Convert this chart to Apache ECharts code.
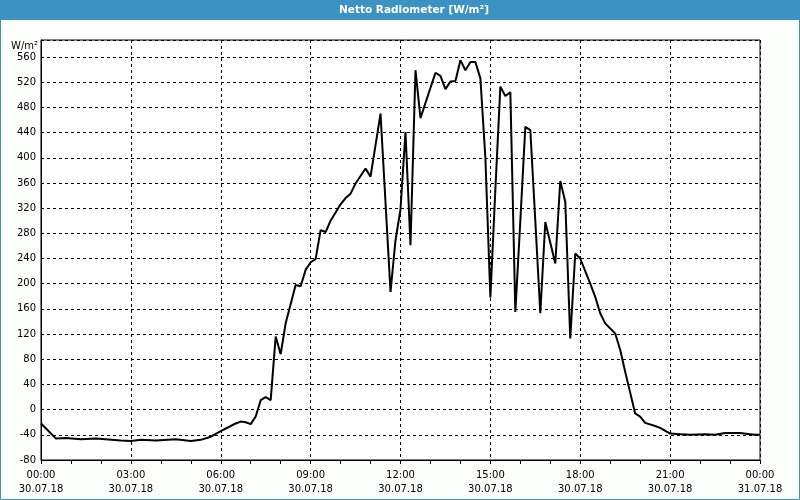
<!DOCTYPE html>
<html>
<head>
<meta charset="utf-8">
<script src="https://cdn.jsdelivr.net/npm/echarts@6/dist/echarts.min.js"></script>
<style>
html,body{margin:0;padding:0;background:#fcfefc;}
#chart{width:800px;height:500px;}
</style>
</head>
<body>
<div id="chart"></div>
<script>
const chartTitle = 'Netto Radiometer [W/m²]';
const unitLabel = 'W/m²';
const times = ['00:00','00:10','00:30','00:50','01:20','01:50','02:40','03:00','03:20','03:50','04:30','05:00','05:20','05:40','06:00','06:20','06:30','06:40','06:50','07:00','07:10','07:20','07:30','07:40','07:50','08:00','08:10','08:30','08:40','08:50','09:00','09:10','09:20','09:30','09:40','10:00','10:10','10:20','10:30','10:50','11:00','11:20','11:40','11:50','12:00','12:10','12:20','12:30','12:40','13:10','13:20','13:30','13:40','13:50','14:00','14:10','14:20','14:30','14:40','14:50','15:00','15:10','15:20','15:30','15:40','15:50','16:00','16:10','16:20','16:30','16:40','16:50','17:00','17:10','17:20','17:30','17:40','17:50','18:00','18:10','18:20','18:30','18:40','18:50','19:10','19:20','19:30','19:40','19:50','20:00','20:10','20:30','20:40','21:00','21:20','21:40','22:10','22:30','22:50','23:20','23:40','23:50','24:00'];
const values = [-22,-30,-46,-45,-47,-46,-49,-50,-48,-49,-47,-50,-48,-43,-34,-26,-22,-19,-20,-23,-11,15,20,15,116,88,137,198,196,222,234,239,285,282,300,326,336,343,359,383,370,470,187,269,318,441,261,539,463,535,530,509,521,522,555,539,552,552,526,400,178,350,513,498,504,155,300,449,444,300,153,298,265,232,363,330,113,248,240,220,200,179,153,137,121,95,60,27,-6,-11,-21,-26,-29,-38,-39,-40,-39,-40,-37,-37,-39,-40,-40];
const xTickTimes = ['00:00','03:00','06:00','09:00','12:00','15:00','18:00','21:00','00:00'];
const xTickDates = ['30.07.18','30.07.18','30.07.18','30.07.18','30.07.18','30.07.18','30.07.18','30.07.18','31.07.18'];

function toHours(t){ const p = t.split(':'); return (+p[0]) + (+p[1])/60; }
const seriesData = times.map((t,i)=>[toHours(t), values[i]]);

const chart = echarts.init(document.getElementById('chart'), null, {renderer:'canvas'});
const font = 'DejaVu Sans';
const blue = '#3d92c4';
chart.setOption({
  animation:false,
  backgroundColor:'#fcfefc',
  grid:{left:41, right:40, top:40, bottom:40, show:true, backgroundColor:'#ffffff', borderColor:'#000', borderWidth:1},
  graphic:[
    {type:'rect', shape:{x:0,y:0,width:800,height:20}, style:{fill:blue}, silent:true},
    {type:'rect', shape:{x:0.5,y:0.5,width:799,height:499}, style:{fill:null, stroke:blue, lineWidth:1}, silent:true},
    {type:'text', x:414, y:10, style:{text:chartTitle, fill:'#ffffff', font:'bold 10.5px "DejaVu Sans"', textAlign:'center', textVerticalAlign:'middle'}, silent:true}
  ],
  xAxis:{
    type:'value', min:0, max:24, interval:3,
    axisLine:{show:true, onZero:false, lineStyle:{color:'#000', width:1}},
    axisTick:{show:true, inside:false, length:4, lineStyle:{color:'#000'}},
    minorTick:{show:true, splitNumber:3, length:4, lineStyle:{color:'#000'}},
    splitLine:{show:true, lineStyle:{color:'#000', type:[3,3], width:1}},
    axisLabel:{
      margin:8, color:'#000', fontFamily:font, fontSize:10, lineHeight:14,
      formatter:function(v){ const i = Math.round(v/3); return xTickTimes[i] + '\n' + xTickDates[i]; }
    }
  },
  yAxis:{
    type:'value', min:-80, max:587, interval:40,
    name:unitLabel, nameLocation:'end', nameGap:-6,
    nameTextStyle:{color:'#000', fontFamily:font, fontSize:10, align:'right', verticalAlign:'middle', padding:[0,3,0,0]},
    axisLine:{show:true, lineStyle:{color:'#000', width:1}},
    axisTick:{show:false},
    splitLine:{show:true, lineStyle:{color:'#000', type:[3,3], width:1}},
    axisLabel:{margin:5, color:'#000', fontFamily:font, fontSize:10, showMaxLabel:false}
  },
  series:[{
    type:'line', data:seriesData, showSymbol:false, symbol:'none',
    lineStyle:{color:'#000', width:2}, z:5
  }]
});
</script>
</body>
</html>
